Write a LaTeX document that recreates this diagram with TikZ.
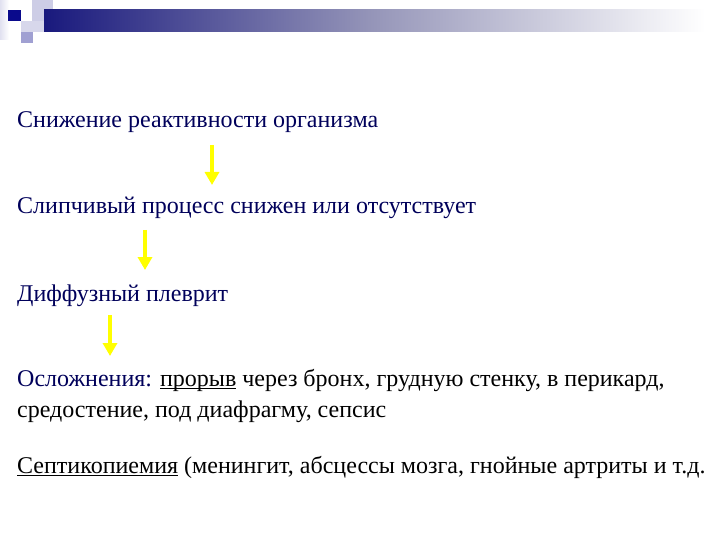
\documentclass[tikz,border=0pt]{standalone}
\usepackage{fontspec}
\setmainfont{Liberation Serif}
\usetikzlibrary{arrows.meta}
\definecolor{navy}{RGB}{0,0,90}
\definecolor{barnavy}{RGB}{25,25,125}
\definecolor{barmid}{RGB}{150,150,185}
\definecolor{lav1}{RGB}{205,205,230}
\definecolor{lav2}{RGB}{160,160,210}
\definecolor{darksq}{RGB}{10,10,140}
\definecolor{arrowyellow}{RGB}{255,255,0}
\newcommand\myul[1]{\setbox0\hbox{#1}\rlap{\rule[-3pt]{\wd0}{1.4pt}}\box0\relax}
\tikzset{
  txt/.style={anchor=base west, inner sep=0pt, font=\fontsize{24}{28}\selectfont},
  flow/.style={draw=arrowyellow, line width=4pt, -{Triangle[width=14pt,length=13pt]}}
}
\begin{document}
\begin{tikzpicture}[x=1pt,y=-1pt]
\useasboundingbox (0,0) rectangle (720,540);
% decoration
\shade[left color=lav1!60, right color=white] (0,0) rectangle (9,40);
\fill[lav1] (32,0) rectangle (53,22);
\fill[lav2] (21,32) rectangle (33,43);
\shade[left color=barnavy, right color=white, middle color=barmid] (44,10) rectangle (705,32);
\fill[lav1!80] (21,21) rectangle (44,32);
\fill[darksq] (8,10) rectangle (21,21);
% texts
\node[txt, text=navy] (t1) at (17,128) {Снижение реактивности организма};
\node[txt, text=navy] (t2) at (17,214) {Слипчивый процесс снижен или отсутствует};
\node[txt, text=navy] (t3) at (17,301) {Диффузный плеврит};
\node[txt] (t4) at (17,386) {\textcolor{navy}{Осложнения:} \myul{прорыв} через бронх, грудную стенку, в перикард,};
\node[txt] (t5) at (17,417) {средостение, под диафрагму, сепсис};
\node[txt] (t6) at (17,473) {\myul{Септикопиемия} (менингит, абсцессы мозга, гнойные артриты и т.д.};
% arrows
\coordinate (a1s) at (212,145); \coordinate (a1e) at (212,185);
\coordinate (a2s) at (145,230); \coordinate (a2e) at (145,270);
\coordinate (a3s) at (110,315); \coordinate (a3e) at (110,356);
\draw[flow] (a1s) -- (a1e);
\draw[flow] (a2s) -- (a2e);
\draw[flow] (a3s) -- (a3e);
\end{tikzpicture}
\end{document}
